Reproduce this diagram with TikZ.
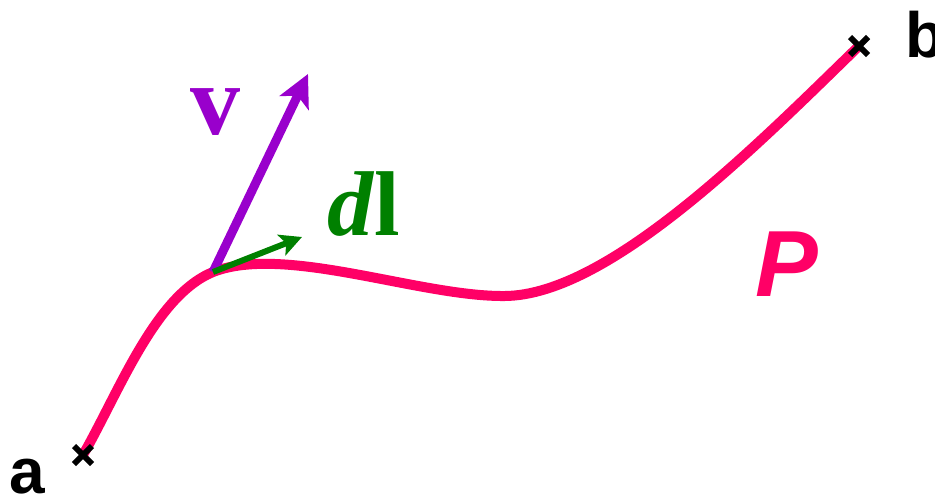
\documentclass[tikz,border=0pt]{standalone}
\usepackage{fontspec}
\setmainfont{Liberation Serif}
\newfontfamily\sansfam{Liberation Sans}
\usepackage{tikz}
\usetikzlibrary{arrows.meta, positioning, shapes.misc}
\usepackage{xcolor}
\definecolor{cPath}{RGB}{255,0,102}
\definecolor{cVel}{RGB}{153,0,204}
\definecolor{cStep}{RGB}{0,128,0}
\tikzset{
  pathline/.style={draw=cPath, line width=10pt},
  endmark/.style={draw=black, line width=6pt, cross out, minimum size=18pt,
                  inner sep=0pt, outer sep=0pt},
  endlabel/.style={font=\sansfam\bfseries\fontsize{64}{64}\selectfont, inner sep=0pt},
  velarrow/.style={-{Stealth[length=32pt, width=32pt, inset=8pt]}, line width=9pt, color=cVel},
  steparrow/.style={-{Stealth[length=22pt, width=22pt, inset=5pt]}, line width=6pt, color=cStep}
}
\begin{document}
\begin{tikzpicture}[x=1pt, y=-1pt]
  \useasboundingbox (0,0) rectangle (935,498);

  % end points and the point on the path
  \coordinate (a) at (83,455);
  \coordinate (b) at (859,46);
  \coordinate (p) at (213,272);
  \coordinate (vtip) at (308,74);
  \coordinate (dltip) at (302,237);

  % the path P
  \draw[pathline] (a) .. controls (120,390) and (155,296) .. (p)
                      .. controls (285,244) and (420,297) .. (505,296)
                      .. controls (610,295) and (760,142) .. (b);

  \node[endmark] (markA) at (a) {};
  \node[endmark] (markB) at (b) {};

  % vectors
  \draw[velarrow] (p) -- (vtip);
  \draw[steparrow] (p) -- (dltip);

  % labels
  \node[endlabel] (labA) at (27,477) {a};
  \node[endlabel] (labB) at (925,35) {b};
  \node[font=\sansfam\bfseries\itshape\fontsize{94}{94}\selectfont, text=cPath,
        inner sep=0pt] (labP) at (787,264) {P};
  \node[font=\bfseries\fontsize{100}{100}\selectfont, text=cVel,
        inner sep=0pt] (labV) at (215,112) {v};
  \node[font=\bfseries\fontsize{92}{92}\selectfont, text=cStep,
        inner sep=0pt] (labDL) at (364,204) {\textit{d}l};
\end{tikzpicture}
\end{document}
